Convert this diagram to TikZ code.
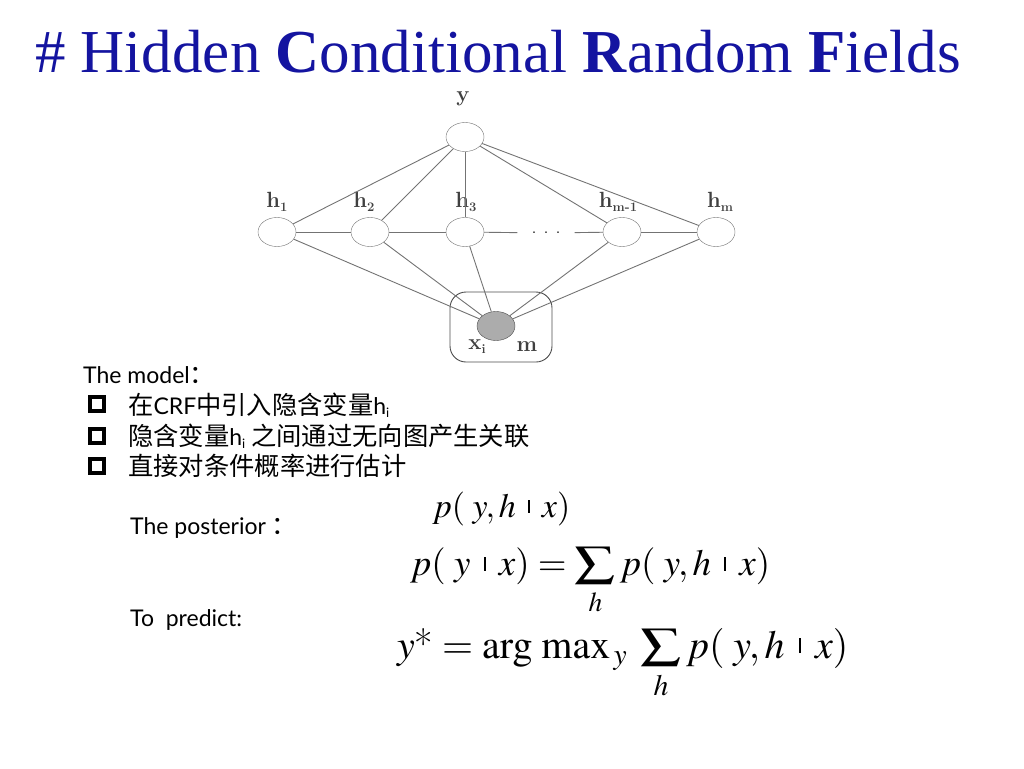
\documentclass[tikz,border=0pt]{standalone}
\usepackage{amsmath}
\usepackage{graphicx}
\usepackage{mathptmx}
\usepackage[no-math]{fontspec}
\usepackage{tikz}
\usetikzlibrary{shapes.geometric}
\newfontfamily\titlefont{Liberation Serif}
\newfontfamily\bodyfont{Lato}
\newfontfamily\cjk[Scale=1.1]{Noto Sans CJK SC}
\definecolor{titleblue}{RGB}{20,20,160}
\definecolor{edgegray}{RGB}{115,115,115}
\newcommand{\hsub}[2]{#1\raisebox{-4pt}{\fontsize{13}{13}\selectfont #2}}
\newcommand{\given}{\mathrel{\hspace{0.13em}\rule[0.12em]{0.06em}{0.38em}\hspace{0.13em}}}
\newcommand{\hsum}{\mathop{\vcenter{\hbox{\resizebox*{41pt}{37pt}{$\textstyle\sum$}}}}\limits_{\raisebox{-5pt}{$\scriptstyle h$}}}
\newcommand{\pyhx}{p(\;y,h\given x)}

\begin{document}
\begin{tikzpicture}[x=1pt,y=-1pt,
  var/.style={ellipse,draw=edgegray,fill=white,minimum width=38pt,minimum height=29pt,inner sep=0pt},
  obs/.style={var,fill=gray!65,draw=black!70},
  lab/.style={font=\fontsize{22}{22}\selectfont\bfseries,text=black!75},
  edge/.style={draw=edgegray,line width=0.9pt},
  txt/.style={anchor=west,inner sep=0pt,font=\fontsize{23}{27}\selectfont\bodyfont},
  eqn/.style={anchor=base west,inner sep=0pt},
  tick/.style={draw,line width=3.8pt,minimum size=14pt,inner sep=0pt}]
\useasboundingbox (0,0) rectangle (1024,768);

\node[anchor=base west,inner sep=0pt,text=titleblue,font=\fontsize{61}{70}\selectfont\titlefont] (title) at (35,72)
  {\# Hidden \textbf{C}onditional \textbf{R}andom \textbf{F}ields};

\node[draw=black!70,line width=0.9pt,rounded corners=16pt,minimum width=102pt,minimum height=70pt] (plate) at (501,327) {};
\node[obs] (x) at (496,326) {};
\node[lab] (xlab) at (477,347) {\hsub{x}{i}};
\node[lab] (mlab) at (527,347) {m};

\node[var] (y) at (465,137) {};
\node[lab] (ylab) at (463,99) {y};

\node[var] (h1) at (277,232) {};
\node[var] (h2) at (370,232) {};
\node[var] (h3) at (465,232) {};
\node[var] (hm1) at (622,232) {};
\node[var] (hm) at (716,232) {};
\node[inner xsep=14pt,inner ysep=2pt,font=\fontsize{20}{20}\selectfont] (dots) at (546,233) {.\hspace{7pt}.\hspace{7pt}.};

\node[lab] at (277,202) {\hsub{h}{1}};
\node[lab] at (364,202) {\hsub{h}{2}};
\node[lab] at (466,202) {\hsub{h}{3}};
\node[lab] at (618,202) {\hsub{h}{m-1}};
\node[lab] at (720,202) {\hsub{h}{m}};

\foreach \h in {h1,h2,h3,hm1,hm} {
  \draw[edge] (y) -- (\h);
  \draw[edge] (\h) -- (x);
}
\draw[edge] (h1) -- (h2);
\draw[edge] (h2) -- (h3);
\draw[edge] (h3) -- (dots);
\draw[edge] (dots) -- (hm1);
\draw[edge] (hm1) -- (hm);

\node[txt] (model) at (83,375) {The model{\cjk ：}};
\node[tick] (b1) at (97,404) {};
\node[tick] (b2) at (97,436) {};
\node[tick] (b3) at (97,466) {};
\node[txt] (t1) at (128,405) {{\cjk 在}CRF{\cjk 中引入隐含变量}h\raisebox{-3pt}{\fontsize{13}{13}\selectfont i}};
\node[txt] (t2) at (128,436) {{\cjk 隐含变量}h\raisebox{-3pt}{\fontsize{13}{13}\selectfont i} {\cjk 之间通过无向图产生关联}};
\node[txt] (t3) at (128,466) {{\cjk 直接对条件概率进行估计}};

\node[txt] (post) at (130,528) {The posterior {\cjk ：}};
\node[txt] (pred) at (130,620) {To\ \ predict:};

\node[eqn,font=\fontsize{34}{38}\selectfont] (joint) at (432,517) {$\pyhx$};
\node[eqn,font=\fontsize{37}{41}\selectfont] (marg) at (410,575) {$p(\;y\given x)=\hsum\pyhx$};
\node[eqn,font=\fontsize{40}{44}\selectfont] (argmax) at (397,658) {$y\text{*}=\arg\,\max\nolimits_{\,y}\;\hsum\pyhx$};
\end{tikzpicture}
\end{document}
